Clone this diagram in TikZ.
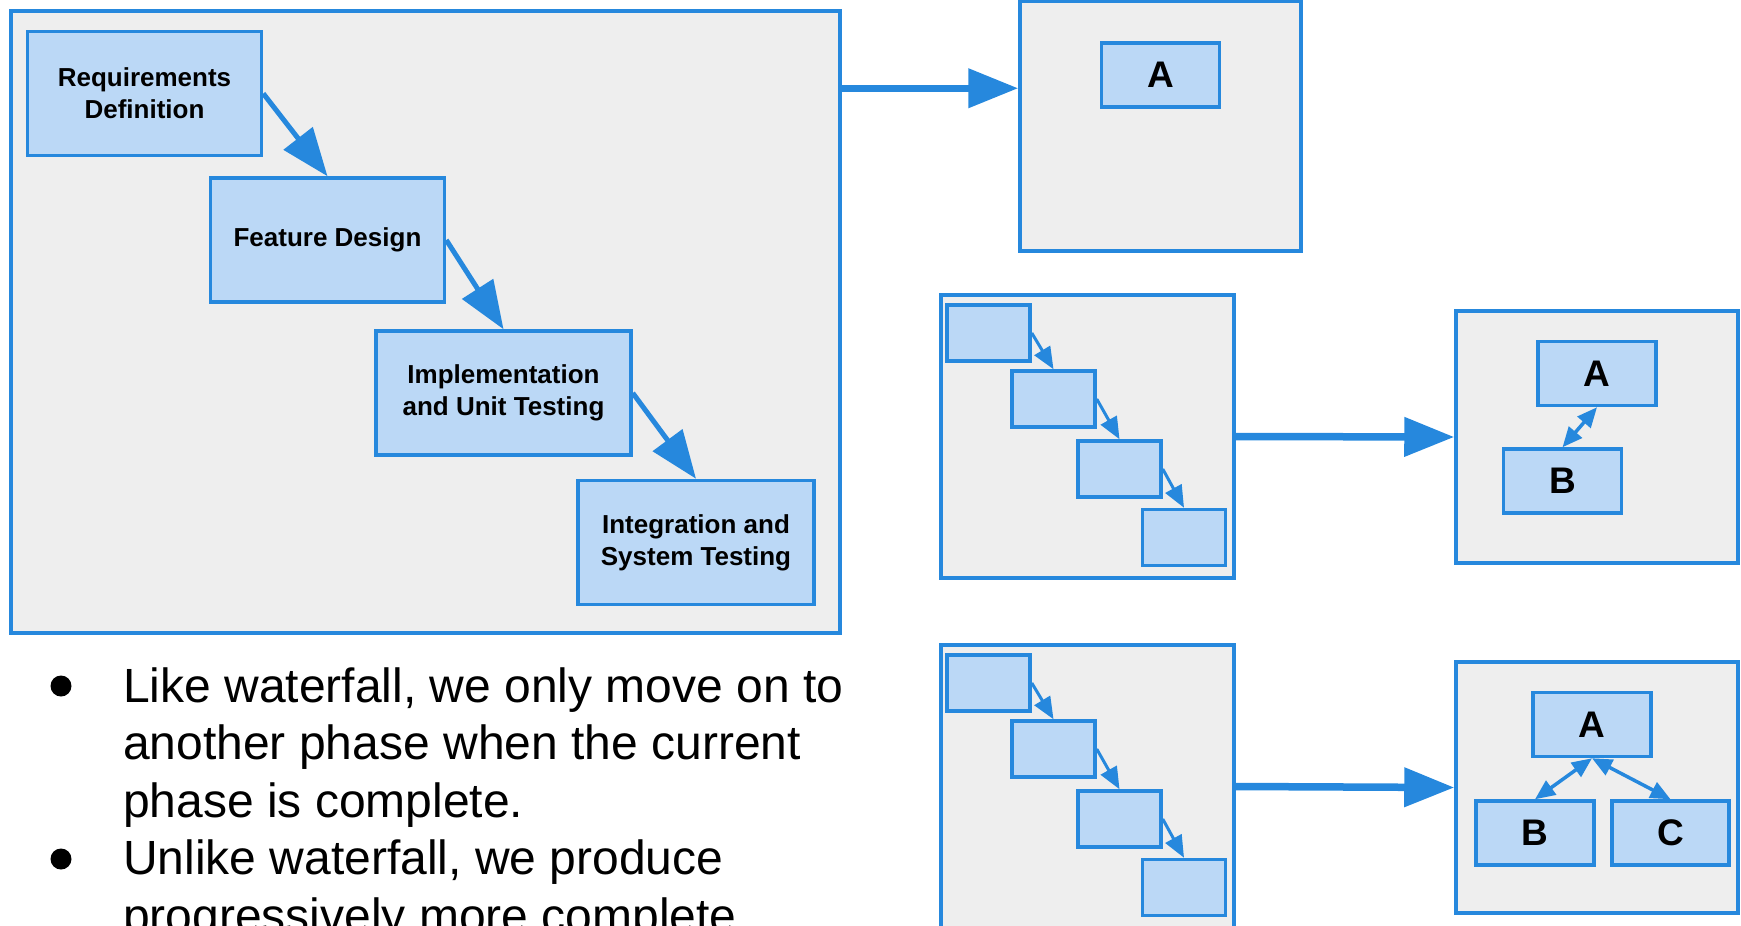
\documentclass[tikz,border=0pt]{standalone}
\usepackage{fontspec}
\setmainfont{Liberation Sans}
\usetikzlibrary{arrows.meta}

\definecolor{slideblue}{HTML}{2688DD}
\definecolor{boxblue}{HTML}{BBD8F6}
\definecolor{framegray}{HTML}{EEEEEE}

\tikzset{
  frame/.style={draw=slideblue, fill=framegray, line width=3.5pt, inner sep=0pt},
  phase/.style={draw=slideblue, fill=boxblue, line width=3.5pt, inner sep=0pt, align=center,
    minimum width=234pt, minimum height=124pt, font=\fontsize{26}{32}\selectfont\bfseries},
  minibox/.style={draw=slideblue, fill=boxblue, line width=3.5pt, inner sep=0pt,
    minimum width=83pt, minimum height=56pt},
  part/.style={draw=slideblue, fill=boxblue, line width=3.5pt, inner sep=0pt,
    minimum width=118pt, minimum height=64pt, font=\fontsize{37}{40}\selectfont\bfseries},
  bigarrow/.style={draw=slideblue, line width=7.5pt, -{Triangle[length=50pt, width=38pt]}},
  phasearrow/.style={draw=slideblue, line width=5pt, -{Triangle[length=48pt, width=36pt]}},
  miniarrow/.style={draw=slideblue, line width=3pt, -{Triangle[length=22pt, width=18pt]}},
  linkarrow/.style={draw=slideblue, line width=3.5pt, {Triangle[length=20pt, width=17pt]}-{Triangle[length=20pt, width=17pt]}},
  bullettext/.style={anchor=base west, inner sep=0pt, font=\fontsize{48}{58}\selectfont},
  bulletdot/.style={circle, fill=black, inner sep=0pt, minimum size=21pt}
}

\begin{document}
\begin{tikzpicture}[x=1pt, y=-1pt]

\useasboundingbox (0,0) rectangle (1741,926);

\clip (0,0) rectangle (1741,926);

\node[frame, minimum width=829pt, minimum height=622pt] (waterfall) at (425.5,322) {};

\node[phase] (req) at (144.5,93.5) {Requirements\\Definition};

\node[phase] (feat) at (327.5,240) {Feature Design};

\node[phase, minimum width=255pt] (impl) at (503.5,393) {Implementation\\and Unit Testing};

\node[phase, minimum width=236pt] (integ) at (696,542.5) {Integration and\\System Testing};

\draw[phasearrow] (req.east) -- (feat.north);

\draw[phasearrow] (feat.east) -- (impl.north);

\draw[phasearrow] (impl.east) -- (integ.north);

\node[frame, minimum width=281pt, minimum height=250pt] (protoone) at (1160.5,126) {};

\node[part] (oneA) at (1160.5,75) {A};

\draw[bigarrow] ([yshift=-79pt]waterfall.north east) -- ([yshift=-89pt]protoone.north west);

\node[frame, minimum width=293pt, minimum height=283pt] (minitwo) at (1087.5,436.5) {};

\node[minibox] (twoa) at (988.5,333) {};

\node[minibox] (twob) at (1053.5,399) {};

\node[minibox] (twoc) at (1119.5,469) {};

\node[minibox] (twod) at (1184,537.5) {};

\draw[miniarrow] (twoa.east) -- (twob.north);

\draw[miniarrow] (twob.east) -- (twoc.north);

\draw[miniarrow] (twoc.east) -- (twod.north);

\node[frame, minimum width=282pt, minimum height=252pt] (prototwo) at (1597,437) {};

\node[part] (twoA) at (1597,373.5) {A};

\node[part] (twoB) at (1562.5,481) {B};

\draw[linkarrow] (twoB.north) -- (twoA.south);

\draw[bigarrow] (minitwo.east) -- (prototwo.west);

\node[frame, minimum width=293pt, minimum height=283pt] (minithree) at (1087.5,786.5) {};

\node[minibox] (threea) at (988.5,683) {};

\node[minibox] (threeb) at (1053.5,749) {};

\node[minibox] (threec) at (1119.5,819) {};

\node[minibox] (threed) at (1184,887.5) {};

\draw[miniarrow] (threea.east) -- (threeb.north);

\draw[miniarrow] (threeb.east) -- (threec.north);

\draw[miniarrow] (threec.east) -- (threed.north);

\node[frame, minimum width=282pt, minimum height=251pt] (protothree) at (1597,787.5) {};

\node[part] (threeA) at (1592,724.5) {A};

\node[part] (threeB) at (1535,833) {B};

\node[part, minimum width=117pt] (threeC) at (1670.5,833) {C};

\draw[linkarrow] (threeA.south) -- (threeB.north);

\draw[linkarrow] (threeA.south) -- (threeC.north);

\draw[bigarrow] (minithree.east) -- (protothree.west);

\node[bulletdot] (dotone) at (61,686) {};

\node[bullettext] (lineone) at (123,702) {Like waterfall, we only move on to};

\node[bullettext] (linetwo) at (123,759.5) {another phase when the current};

\node[bullettext] (linethree) at (123,817) {phase is complete.};

\node[bulletdot] (dottwo) at (61,859) {};

\node[bullettext] (linefour) at (123,874.5) {Unlike waterfall, we produce};

\node[bullettext] (linefive) at (123,932) {progressively more complete};

\end{tikzpicture}
\end{document}
